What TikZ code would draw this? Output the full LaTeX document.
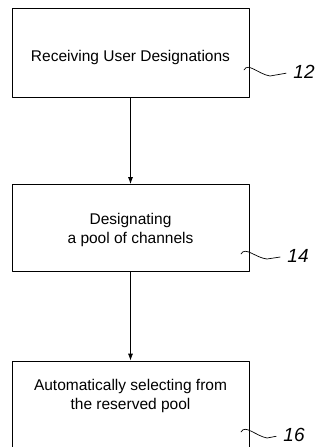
\documentclass[tikz,border=0pt]{standalone}
\usepackage{fontspec}
\setmainfont{Liberation Sans}
\usetikzlibrary{arrows.meta}

\begin{document}
\begin{tikzpicture}[x=1pt, y=-1pt, >={Latex[length=7pt,width=5pt]},
    line width=0.8pt, line cap=round, line join=round,
    font=\fontsize{15.5}{18.5}\selectfont]
  \tikzset{
    stepbox/.style={draw, minimum width=237pt, inner sep=0pt},
    steptext/.style={align=center, inner sep=0pt},
    refnum/.style={font=\fontsize{19}{19}\selectfont\itshape, inner sep=0pt},
    squiggle/.style={line width=0.7pt, shorten >=7pt}
  }

  %--- Page (same proportions as the sheet) ---------------------------------
  \useasboundingbox (0,0) rectangle (320,447);
  \clip (0,0) rectangle (320,447);

  %--- Step boxes -----------------------------------------------------------
  \node[stepbox, minimum height=89pt] (recv)  at (130.5, 52.5) {};
  \node[stepbox, minimum height=87pt] (pool)  at (130.5,228.0) {};
  \node[stepbox, minimum height=90pt] (auto)  at (130.5,406.0) {};

  %--- Step texts -----------------------------------------------------------
  \node[steptext] (recvtxt) at (130.5, 57) {Receiving User Designations};
  \node[steptext] (pooltxt) at (130.5,230) {Designating\\a pool of channels};
  \node[steptext] (autotxt) at (130.5,396) {Automatically selecting from\\the reserved pool};

  %--- Flow arrows ----------------------------------------------------------
  \draw[->] (recv) -- (pool);
  \draw[->] (pool) -- (auto);

  %--- Reference numerals ---------------------------------------------------
  \node[refnum] (n12) at (304,72) {12};
  \node[refnum] (n14) at (298,256) {14};
  \node[refnum] (n16) at (294,435) {16};

  \coordinate (s12) at (244,70);
  \coordinate (s14) at (241,254);
  \coordinate (s16) at (241,432);

  \draw[squiggle] (s12) .. controls (248,62) and (258,74) .. (270,76)
        -- (n12.west);
  \draw[squiggle] (s14) .. controls (245,246) and (256,258) .. (267,259)
        -- (n14.west);
  \draw[squiggle] (s16) .. controls (245,424) and (256,436) .. (267,438)
        -- (n16.west);

\end{tikzpicture}
\end{document}
